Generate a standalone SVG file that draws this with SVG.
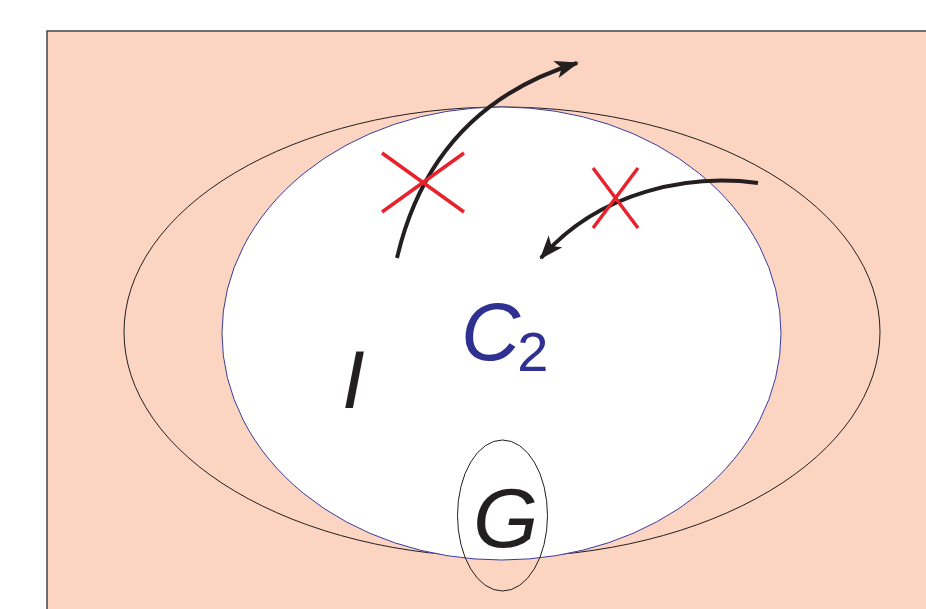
<svg xmlns="http://www.w3.org/2000/svg" width="926" height="609" viewBox="0 0 926 609">
<style>
.lbl{font-family:"Liberation Sans",Arial,sans-serif;font-style:italic}
.sub{font-style:normal}
.arrow{fill:none;stroke:#231f20;stroke-width:4;stroke-linecap:butt}
.cross{stroke:#e8212a;stroke-width:3.5}
</style>
<defs>
<marker id="ah" markerUnits="userSpaceOnUse" markerWidth="26" markerHeight="20" viewBox="0 0 26 20" refX="22" refY="10" orient="auto">
<path d="M0,1 L24,10 L0,19 L6,10 z" fill="#231f20"/>
</marker>
</defs>
<rect x="0" y="0" width="926" height="609" fill="#fff"/>
<rect x="47" y="31" width="900" height="600" fill="#fbd4c2" stroke="#444" stroke-width="1.5"/>
<g id="outer">
<ellipse cx="502" cy="332" rx="378" ry="225" fill="none" stroke="#231f20" stroke-width="1"/>
</g>
<g id="C2">
<ellipse cx="501.5" cy="333.5" rx="279.5" ry="226.5" fill="#fff" stroke="#3a3a9a" stroke-width="1"/>
<text class="lbl" x="461" y="360" font-size="82" fill="#2e3192">C<tspan class="sub" font-size="56" dx="-3" dy="11">2</tspan></text>
</g>
<g id="I">
<text class="lbl" x="342" y="408" font-size="82" fill="#231f20">I</text>
</g>
<g id="G">
<ellipse cx="502.5" cy="515.5" rx="45" ry="75.5" fill="none" stroke="#231f20" stroke-width="1"/>
<text class="lbl" x="473" y="547" font-size="84" fill="#231f20">G</text>
</g>
<g id="connectors">
<path class="arrow" d="M397,258 Q432,108 577,63" marker-end="url(#ah)"/>
<path class="arrow" d="M758,183 C690,174 600,190 541,258" marker-end="url(#ah)"/>
</g>
<g id="crosses">
<line class="cross" x1="382" y1="153" x2="464" y2="212"/>
<line class="cross" x1="464" y1="153" x2="382" y2="212"/>
<line class="cross" x1="593" y1="168" x2="638" y2="228"/>
<line class="cross" x1="638" y1="168" x2="593" y2="228"/>
</g>
</svg>
